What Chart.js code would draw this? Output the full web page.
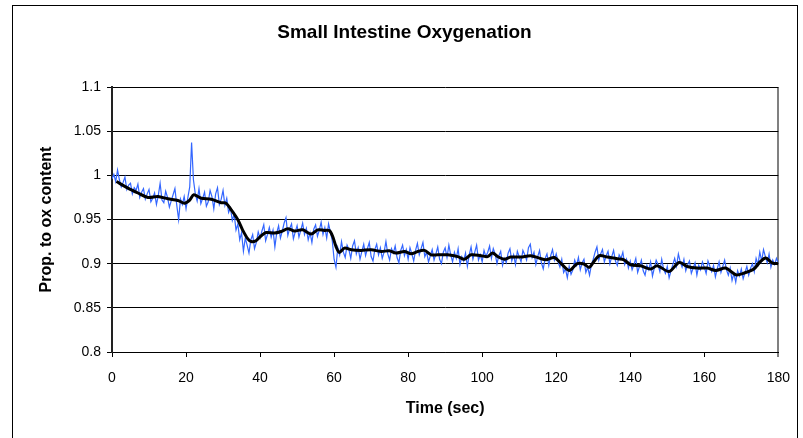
<!DOCTYPE html>
<html>
<head>
<meta charset="utf-8">
<title>Small Intestine Oxygenation</title>
<script src="https://cdn.jsdelivr.net/npm/chart.js@4.4.1/dist/chart.umd.min.js"></script>
<style>
  html, body { margin: 0; padding: 0; background: #fff; }
  #wrap { position: relative; width: 803px; height: 438px; overflow: hidden; }
  #frame { position: absolute; left: 12px; top: 5px; width: 784px; height: 460px; border: 1px solid #000; }
  #oxChart { position: absolute; left: 0; top: 0; }
</style>
</head>
<body>
<div id="wrap">
  <div id="frame"></div>
  <canvas id="oxChart" width="803" height="438"></canvas>
</div>
<script>
// axis ticks
const xTicks = [0, 20, 40, 60, 80, 100, 120, 140, 160, 180];
const yTicks = [0.8, 0.85, 0.9, 0.95, 1, 1.05, 1.1];

// raw signal, one sample every half second from t = 0 (one row = 10 s)
const rawStep = 0.5;
const rawValues = [
  0.996,1.001,0.993,1.006,0.995,0.987,0.992,0.998,0.984,0.989,0.991,0.979,0.986,0.983,0.990,0.975,0.981,0.985,0.973,0.979,
  0.984,0.970,0.974,0.980,0.967,0.977,0.991,0.972,0.969,0.982,0.975,0.964,0.971,0.978,0.985,0.966,0.950,0.973,0.967,0.976,
  0.962,0.975,0.987,1.037,0.995,0.979,0.971,0.985,0.968,0.974,0.981,0.965,0.970,0.983,0.976,0.962,0.979,0.986,0.967,0.973,
  0.983,0.966,0.974,0.958,0.963,0.949,0.956,0.938,0.945,0.927,0.935,0.914,0.929,0.921,0.912,0.927,0.933,0.917,0.924,0.936,
  0.929,0.937,0.944,0.926,0.933,0.941,0.930,0.938,0.919,0.935,0.943,0.929,0.937,0.946,0.952,0.932,0.940,0.945,0.928,0.936,
  0.943,0.930,0.938,0.946,0.933,0.940,0.927,0.935,0.924,0.939,0.944,0.931,0.938,0.947,0.933,0.941,0.929,0.945,0.936,0.926,
  0.905,0.896,0.918,0.910,0.925,0.913,0.907,0.921,0.916,0.906,0.920,0.926,0.911,0.918,0.905,0.914,0.922,0.909,0.917,0.924,
  0.908,0.903,0.916,0.922,0.910,0.918,0.906,0.913,0.925,0.911,0.904,0.917,0.912,0.920,0.907,0.901,0.915,0.921,0.909,0.916,
  0.905,0.918,0.911,0.903,0.915,0.923,0.910,0.917,0.924,0.908,0.913,0.902,0.909,0.916,0.904,0.911,0.919,0.905,0.900,0.913,
  0.918,0.907,0.921,0.910,0.902,0.913,0.906,0.917,0.899,0.908,0.903,0.912,0.897,0.910,0.919,0.905,0.913,0.921,0.904,0.910,
  0.902,0.915,0.908,0.913,0.920,0.906,0.917,0.911,0.900,0.909,0.914,0.898,0.906,0.901,0.912,0.917,0.903,0.910,0.899,0.914,
  0.908,0.902,0.915,0.910,0.904,0.918,0.922,0.907,0.913,0.899,0.908,0.915,0.901,0.894,0.906,0.911,0.898,0.909,0.916,0.904,
  0.911,0.902,0.896,0.905,0.890,0.894,0.884,0.897,0.888,0.893,0.904,0.898,0.907,0.893,0.901,0.905,0.890,0.896,0.887,0.899,
  0.905,0.913,0.919,0.904,0.911,0.916,0.902,0.909,0.914,0.900,0.908,0.915,0.903,0.898,0.910,0.906,0.913,0.899,0.905,0.895,
  0.903,0.893,0.899,0.906,0.890,0.897,0.904,0.892,0.887,0.898,0.893,0.902,0.886,0.895,0.904,0.899,0.891,0.905,0.894,0.889,
  0.897,0.884,0.892,0.899,0.906,0.897,0.911,0.902,0.896,0.905,0.892,0.899,0.903,0.889,0.895,0.901,0.887,0.898,0.893,0.902,
  0.896,0.889,0.903,0.897,0.891,0.898,0.885,0.894,0.902,0.890,0.897,0.904,0.893,0.887,0.895,0.881,0.889,0.879,0.892,0.886,
  0.894,0.883,0.890,0.897,0.887,0.895,0.900,0.891,0.906,0.899,0.913,0.903,0.916,0.908,0.901,0.911,0.896,0.904,0.899,0.906,
  0.901
];

// smoothed trace
const smoothTimes = [
  1.2, 4.3, 7, 9.7, 12.4, 15.1, 17.8, 19.6, 21, 22.1,
  24.1, 26.8, 29.5, 30.8, 32.2, 34, 35.3, 36.7, 37.6, 38.9,
  40.3, 41.6, 43.9, 45.7, 47.5, 49.3, 51.5, 53.8, 55.6, 57.4,
  58.7, 59.6, 60.5, 61.4, 62.8, 64.6, 67.3, 70, 72.7, 74.9,
  76.7, 79, 80.8, 82.6, 84.4, 86.2, 88, 90.7, 93.4, 95.2,
  97, 99.7, 101.5, 102.8, 104.2, 106, 107.7, 110.4, 113.1, 115.4,
  117.2, 119.5, 121.2, 123.5, 125.7, 127.5, 128.9, 130.2, 131.6, 133.8,
  136.5, 138.3, 140.1, 142.8, 145.5, 147.3, 150.5, 153.2, 155.4, 158.1,
  160.8, 163.1, 165.8, 168.5, 170.7, 173.4, 175.2, 176.6, 178.4, 180
];
const smoothValues = [
  0.993, 0.9855, 0.980, 0.975, 0.976, 0.9734, 0.9715, 0.9685, 0.972, 0.978,
  0.974, 0.973, 0.969, 0.9685, 0.961, 0.9497, 0.938, 0.928, 0.925, 0.926,
  0.9316, 0.9353, 0.9346, 0.9364, 0.9395, 0.937, 0.9383, 0.9335, 0.9383, 0.9376,
  0.9376, 0.931, 0.9195, 0.9127, 0.9176, 0.9157, 0.915, 0.9157, 0.9138, 0.9146,
  0.912, 0.9138, 0.9112, 0.9138, 0.915, 0.910, 0.910, 0.910, 0.908, 0.905,
  0.910, 0.909, 0.908, 0.912, 0.908, 0.905, 0.9075, 0.9075, 0.909, 0.9063,
  0.9044, 0.907, 0.9007, 0.8923, 0.900, 0.8996, 0.8958, 0.9025, 0.909, 0.9075,
  0.9055, 0.9044, 0.8987, 0.8976, 0.894, 0.8976, 0.8912, 0.9014, 0.8968, 0.895,
  0.895, 0.8923, 0.895, 0.8874, 0.8893, 0.894, 0.9025, 0.9063, 0.9007, 0.900
];

const FONT = "'Liberation Sans', Arial, sans-serif";

const rawPts = rawValues.map((v, i) => ({ x: i * rawStep, y: v }));
const smoothPts = smoothTimes.map((t, i) => ({ x: t, y: smoothValues[i] }));

const ctx = document.getElementById('oxChart').getContext('2d');

const oxChart = new Chart(ctx, {
  type: 'line',
  data: {
    datasets: [
      {
        label: 'raw',
        data: rawPts,
        borderColor: '#3366ff',
        borderWidth: 1.2,
        pointRadius: 0,
        tension: 0,
        order: 2
      },
      {
        label: 'smoothed',
        data: smoothPts,
        borderColor: '#000000',
        borderWidth: 3,
        pointRadius: 0,
        tension: 0.3,
        order: 1
      }
    ]
  },
  options: {
    responsive: false,
    animation: false,
    devicePixelRatio: 1,
    layout: { padding: { left: 30, right: 24, top: 0, bottom: 0 } },
    plugins: {
      legend: { display: false },
      tooltip: { enabled: false },
      title: {
        display: true,
        text: 'Small Intestine Oxygenation',
        color: '#000',
        font: { family: FONT, size: 19, weight: 'bold' },
        padding: { top: 21.6, bottom: 42.6 }
      }
    },
    scales: {
      x: {
        type: 'linear',
        min: 0,
        max: 180,
        afterBuildTicks: axis => { axis.ticks = xTicks.map(v => ({ value: v })); },
        afterFit: scale => { scale.height = 86; },
        border: { color: '#000', width: 1 },
        grid: {
          color: c => (c.tick && c.tick.value === 180) ? '#808080' : 'rgba(0,0,0,0)',
          lineWidth: c => (c.tick && c.tick.value === 180) ? 2 : 1,
          tickColor: '#000',
          tickWidth: 1,
          tickLength: 5
        },
        ticks: {
          color: '#000',
          padding: 13,
          maxRotation: 0,
          font: { family: FONT, size: 14 },
          callback: v => String(v)
        },
        title: {
          display: true,
          text: 'Time (sec)',
          color: '#000',
          font: { family: FONT, size: 16, weight: 'bold' },
          padding: { top: 0, bottom: 19.4 }
        }
      },
      y: {
        min: 0.8,
        max: 1.1,
        afterBuildTicks: axis => { axis.ticks = yTicks.map(v => ({ value: v })); },
        afterFit: scale => { scale.width = 82; },
        border: { color: '#222', width: 2 },
        grid: {
          color: '#000',
          lineWidth: 1,
          tickColor: '#000',
          tickLength: 5
        },
        ticks: {
          color: '#000',
          padding: 6,
          font: { family: FONT, size: 14 },
          callback: v => String(v)
        },
        title: {
          display: true,
          text: 'Prop. to ox content',
          color: '#000',
          font: { family: FONT, size: 16, weight: 'bold' },
          padding: { top: 7.4, bottom: 0 }
        }
      }
    }
  }
});
</script>
</body>
</html>
